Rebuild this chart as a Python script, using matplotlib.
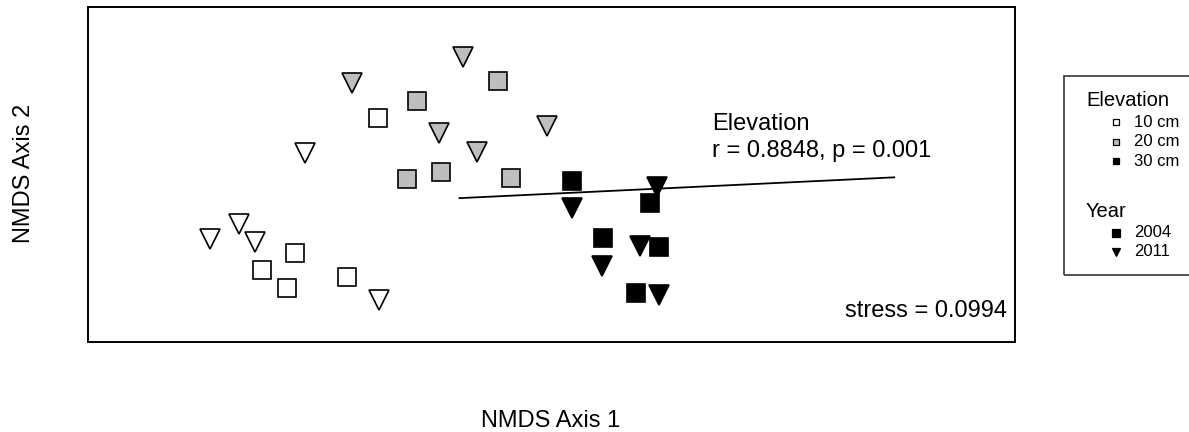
import matplotlib
matplotlib.use("Agg")
import matplotlib.pyplot as plt
from matplotlib.lines import Line2D
from matplotlib.patches import Rectangle

plt.rcParams['font.family'] = ['Liberation Sans', 'DejaVu Sans']

# NMDS site scores, grouped by elevation and year
x_10_2004 = [-0.432, -0.640, -0.723, -0.661, -0.511]
y_10_2004 = [0.143, -0.194, -0.238, -0.283, -0.256]
x_10_2011 = [-0.615, -0.779, -0.853, -0.740, -0.429]
y_10_2011 = [0.054, -0.123, -0.161, -0.168, -0.312]
x_20_2004 = [-0.132, -0.334, -0.361, -0.274, -0.099]
y_20_2004 = [0.235, 0.186, -0.011, 0.008, -0.007]
x_20_2011 = [-0.220, -0.498, -0.279, -0.186, -0.011]
y_20_2011 = [0.296, 0.231, 0.106, 0.057, 0.123]
x_30_2004 = [0.052, 0.248, 0.131, 0.271, 0.213]
y_30_2004 = [-0.016, -0.069, -0.158, -0.180, -0.294]
x_30_2011 = [0.052, 0.264, 0.128, 0.223, 0.271]
y_30_2011 = [-0.083, -0.029, -0.228, -0.178, -0.300]

# fitted elevation vector (start, end)
vec_x = [-0.229, 0.858]
vec_y = [-0.058, -0.006]

elev_labels = ["10 cm", "20 cm", "30 cm"]
year_labels = ["2004", "2011"]
fills = {"10 cm": "white", "20 cm": "#bebebe", "30 cm": "black"}
shapes = {"2004": "s", "2011": "v"}

fig = plt.figure(figsize=(11.89, 4.32), dpi=100)
ax = fig.add_axes([87.5 / 1189, 1 - 341.7 / 432, 927.5 / 1189, 334.7 / 432])

groups = [
    ("10 cm", "2004", x_10_2004, y_10_2004),
    ("10 cm", "2011", x_10_2011, y_10_2011),
    ("20 cm", "2004", x_20_2004, y_20_2004),
    ("20 cm", "2011", x_20_2011, y_20_2011),
    ("30 cm", "2004", x_30_2004, y_30_2004),
    ("30 cm", "2011", x_30_2011, y_30_2011),
]
for elev, yr, xs, ys in groups:
    ms = 12.5 if shapes[yr] == "s" else 14
    ax.plot(xs, ys, linestyle="none", marker=shapes[yr], ms=ms,
            markerfacecolor=fills[elev], markeredgecolor="black", mew=1.2)

ax.plot(vec_x, vec_y, color="black", lw=1.3)
ax.text(0.4025, 0.1125, "Elevation", fontsize=17, ha="left", va="baseline")
ax.text(0.4025, 0.044, "r = 0.8848, p = 0.001", fontsize=17, ha="left", va="baseline")
ax.text(0.991, 0.0747, "stress = 0.0994", fontsize=17, ha="right", va="baseline",
        transform=ax.transAxes)

ax.set_xlim(-1.159, 1.16)
ax.set_ylim(-0.417, 0.42)
ax.set_xticks([])
ax.set_yticks([])
for sp in ax.spines.values():
    sp.set_linewidth(1.4)

fig.text(551 / 1189, 1 - 421 / 432, "NMDS Axis 1", fontsize=17, ha="center", va="center")
fig.text(24 / 1189, 1 - 173 / 432, "NMDS Axis 2", fontsize=17, ha="center", va="center",
         rotation=90)

# legend panel drawn on the figure
W, H = 1189.0, 432.0
fig.add_artist(Rectangle((1063.7 / W, 1 - 275.3 / H), 150 / W, 199.6 / H,
                         transform=fig.transFigure, fill=False,
                         edgecolor="#444444", lw=1.3, clip_on=False))
fig.text(1086.7 / W, 1 - 106 / H, "Elevation", fontsize=14.5, va="baseline")
for i, lab in enumerate(elev_labels):
    cy = 122 + i * 19.5
    fig.add_artist(Line2D([1116 / W], [1 - cy / H], transform=fig.transFigure,
                          marker="s", ms=5, markerfacecolor=fills[lab],
                          markeredgecolor="black", mew=0.9, linestyle="none"))
    fig.text(1134 / W, 1 - (cy + 4.7) / H, lab, fontsize=12, va="baseline")
fig.text(1086 / W, 1 - 216.7 / H, "Year", fontsize=14.5, va="baseline")
for i, lab in enumerate(year_labels):
    cy = 232.7 + i * 19
    fig.add_artist(Line2D([1116 / W], [1 - cy / H], transform=fig.transFigure,
                          marker=shapes[lab], ms=6, markerfacecolor="black",
                          markeredgecolor="black", mew=0.9, linestyle="none"))
    fig.text(1134 / W, 1 - (cy + 4.7) / H, lab, fontsize=12, va="baseline")

fig.savefig("out.png", dpi=100)
